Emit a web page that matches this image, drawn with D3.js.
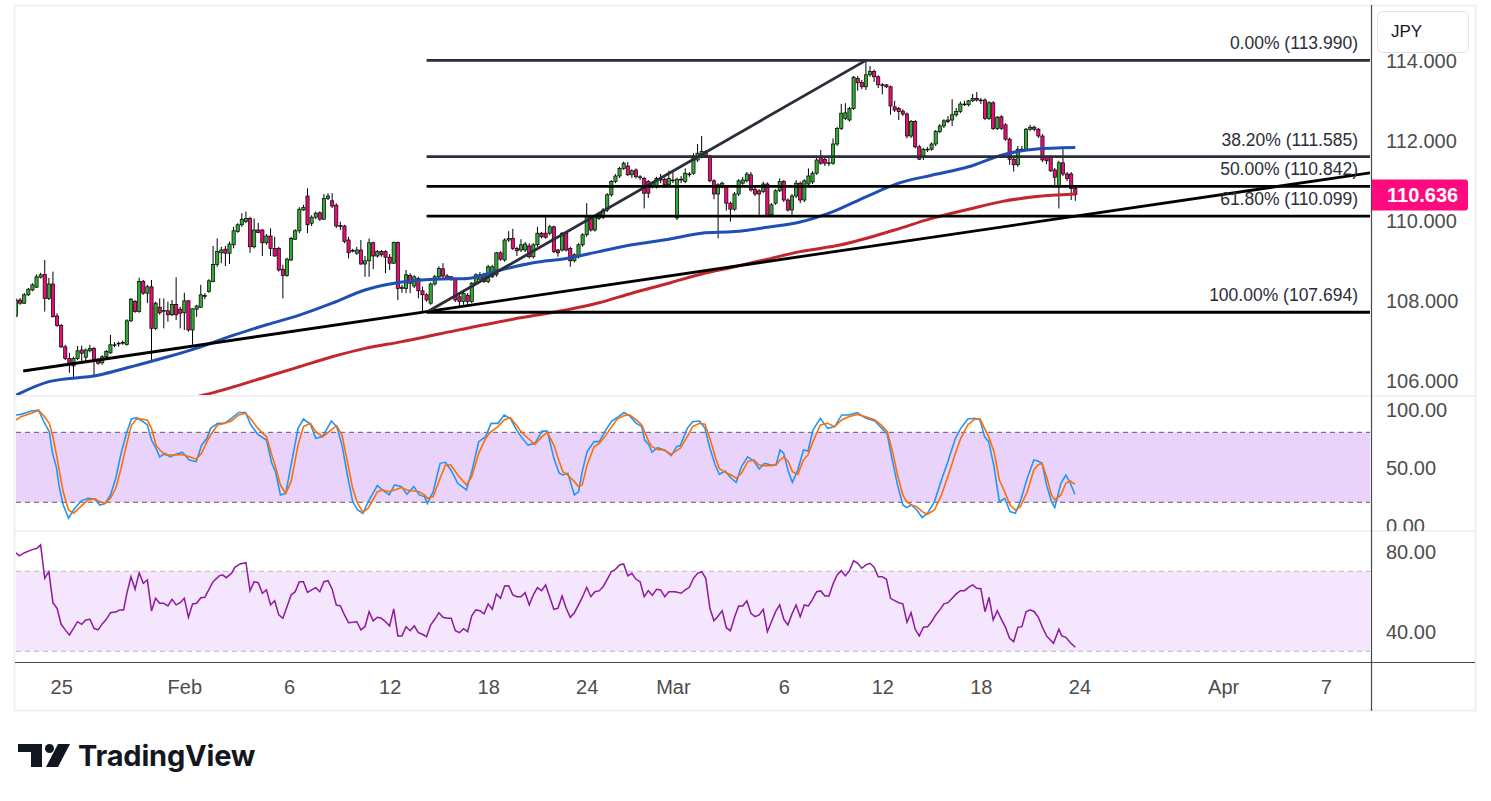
<!DOCTYPE html>
<html><head><meta charset="utf-8">
<script src="https://cdn.jsdelivr.net/npm/d3@7"></script>
<style>body{margin:0;background:#fff;overflow:hidden}</style>
</head><body>
<svg id="c" width="1491" height="801"></svg>
<script>
// ---------------- DATA ----------------
const dateLabels = ["25","Feb","6","12","18","24","Mar","6","12","18","24","Apr","7"];
const dateIdx    = [11,41,66.5,91,115,139,160,187,211,235,259,294,319];

const open = [
107.60,108.00,107.92,108.13,108.25,108.32,108.57,108.64,108.04,108.40,
107.60,107.36,106.83,106.54,106.35,106.54,106.75,106.57,106.73,106.79,
106.50,106.43,106.58,106.68,106.87,106.90,106.92,106.89,107.48,107.96,
107.71,108.46,108.17,108.33,107.29,107.82,107.72,107.73,107.63,107.89,
107.77,107.68,107.98,107.25,107.77,107.82,108.10,108.21,108.46,108.89,
109.18,109.27,109.17,109.38,109.71,109.88,109.96,110.04,109.33,109.75,
109.75,109.43,109.60,109.29,109.29,108.77,108.61,109.00,109.52,109.73,
110.25,110.60,109.92,110.07,110.18,110.02,110.54,110.48,110.37,109.85,
109.85,109.50,109.23,109.17,109.25,108.90,108.98,109.43,109.10,109.21,
109.21,109.07,108.92,109.44,108.29,108.29,108.61,108.35,108.54,108.23,
108.13,107.92,108.40,108.58,108.78,108.60,108.58,108.52,108.08,107.96,
108.12,107.96,108.42,108.52,108.65,108.46,108.58,108.63,109.18,109.00,
109.50,109.54,109.29,109.25,109.25,109.35,109.08,109.38,109.67,109.67,
109.67,109.83,109.25,109.25,109.67,109.29,108.98,109.08,109.38,109.63,
110.08,109.75,110.04,110.07,110.25,110.63,110.96,111.10,111.29,111.35,
111.13,111.25,111.08,111.04,110.96,110.83,110.83,111.02,111.02,110.88,
111.00,110.05,111.00,110.96,111.15,111.17,111.50,111.58,111.71,111.60,
110.98,110.65,110.83,110.85,110.42,110.27,110.65,110.92,110.98,111.13,
110.77,110.73,110.71,110.90,110.13,110.42,110.73,110.96,110.50,110.25,
110.60,110.92,110.50,110.90,110.95,111.17,111.57,111.52,111.42,111.42,
111.90,112.29,112.54,112.50,112.79,113.54,113.44,113.33,113.63,113.71,
113.58,113.38,113.38,113.33,112.83,112.79,112.72,112.65,112.10,112.46,
111.83,111.57,111.77,111.77,111.90,112.21,112.35,112.50,112.50,112.63,
112.71,112.90,112.88,112.98,113.04,113.00,113.00,112.54,112.93,112.29,
112.58,112.38,112.02,111.52,111.38,111.77,111.77,112.27,112.32,112.27,
112.10,111.57,111.57,111.25,110.83,111.43,111.15,111.15,110.79];
const high = [
108.04,108.05,108.18,108.30,108.42,108.64,108.68,109.00,108.55,108.71,
107.67,107.40,106.88,106.68,106.58,106.85,106.86,106.79,106.88,106.83,
106.54,106.62,106.75,107.13,106.95,106.96,106.99,107.52,108.05,108.00,
108.56,108.50,108.38,108.50,107.96,108.04,108.04,107.96,108.00,108.57,
107.83,108.18,108.00,107.79,107.88,108.38,108.17,108.52,109.35,109.54,
109.33,109.35,109.46,109.83,109.92,110.17,110.21,110.08,110.04,109.93,
109.77,109.65,109.79,109.58,109.33,108.88,109.06,109.58,109.77,110.32,
110.38,110.79,110.12,110.21,110.22,110.65,110.67,110.67,110.42,109.96,
109.88,109.58,109.28,109.33,109.50,109.10,109.54,109.46,109.25,109.25,
109.25,109.15,109.46,109.46,108.38,108.75,108.67,108.62,108.58,108.33,
108.17,108.44,108.63,108.84,108.92,108.65,108.60,108.55,108.15,108.25,
108.17,108.45,108.67,108.70,108.68,108.88,108.88,109.20,109.22,109.54,
109.72,109.78,109.33,109.52,109.45,109.42,109.42,109.83,109.70,110.08,
109.88,109.86,109.28,109.70,109.70,109.33,109.17,109.42,109.67,110.42,
110.12,110.12,110.20,110.30,110.67,111.00,111.15,111.33,111.46,111.45,
111.27,111.29,111.12,111.08,111.00,110.97,111.08,111.15,111.06,111.23,
111.25,111.06,111.10,111.29,111.20,111.67,111.90,112.10,111.75,111.63,
111.02,110.92,110.96,110.88,110.46,110.70,111.02,111.08,111.20,111.20,
110.85,110.77,110.96,110.94,110.42,110.77,111.04,111.00,110.54,110.65,
111.00,110.96,111.02,111.29,111.22,111.55,111.75,111.60,111.55,112.04,
112.33,112.90,112.92,112.83,113.60,113.60,113.50,113.99,113.85,113.76,
113.62,113.42,113.40,113.36,112.98,112.83,112.77,112.69,112.50,112.50,
111.88,111.80,111.82,111.94,112.25,112.40,112.52,112.60,113.02,112.80,
112.96,112.98,113.00,113.15,113.20,113.05,113.04,112.97,112.97,112.60,
112.62,112.42,112.06,111.56,111.85,111.85,112.30,112.38,112.36,112.30,
112.15,111.62,111.62,111.30,111.48,111.77,111.20,111.20,110.83];
const low = [
107.57,107.88,107.90,108.10,108.22,108.30,108.54,107.71,108.00,107.57,
107.33,106.80,106.50,106.18,106.07,106.50,106.46,106.46,106.69,106.08,
106.38,106.38,106.54,106.65,106.82,106.83,106.88,106.86,107.45,107.68,
107.68,108.13,107.92,106.50,107.25,107.63,107.29,107.46,107.60,107.50,
107.29,107.25,107.21,106.88,107.58,107.80,108.02,108.18,108.44,108.83,
108.92,108.85,108.90,109.29,109.68,109.83,109.92,109.18,109.29,109.67,
109.10,109.38,109.10,109.08,108.71,108.04,108.58,108.98,109.50,109.67,
110.23,109.67,109.85,110.02,109.98,110.00,110.50,110.30,109.80,109.75,
109.42,109.04,109.19,109.13,108.88,108.58,108.58,108.77,109.06,109.08,
108.67,108.75,108.90,108.00,108.18,108.17,108.17,108.30,108.04,107.694,
107.96,107.88,108.36,108.55,108.55,108.50,108.48,107.95,107.80,107.88,
107.88,107.92,108.38,108.48,108.42,108.42,108.55,108.58,108.98,108.96,
109.45,109.25,109.10,109.20,109.20,109.04,109.04,109.33,109.54,109.53,
109.62,109.17,109.08,109.21,109.21,108.83,108.94,109.04,109.33,109.58,
109.71,109.71,110.00,110.02,110.20,110.58,110.92,111.05,111.25,111.10,
111.05,111.04,111.00,110.29,110.55,110.79,110.79,110.92,110.83,110.85,
110.92,110.00,110.92,110.92,111.08,111.13,111.45,111.54,111.55,110.94,
110.52,109.54,110.79,110.23,109.96,110.23,110.60,110.88,110.94,110.71,
110.60,110.13,110.67,110.08,110.10,110.38,110.70,110.45,110.21,110.13,
110.55,110.42,110.45,110.85,110.90,111.13,111.38,111.35,111.35,111.38,
111.85,112.25,112.50,112.46,112.75,113.23,113.27,113.25,113.58,113.45,
113.30,113.14,113.30,112.63,112.70,112.50,112.60,112.04,112.05,111.79,
111.50,111.50,111.70,111.73,111.85,112.17,112.30,112.42,112.35,112.58,
112.67,112.85,112.84,112.95,112.96,112.90,112.50,112.50,112.25,112.25,
112.25,111.98,111.38,111.21,111.33,111.70,111.73,112.22,112.22,112.05,
111.45,111.40,111.20,110.85,110.29,111.10,110.97,110.50,110.48];
const close = [
108.00,107.92,108.13,108.27,108.38,108.58,108.63,108.04,108.40,107.58,
107.36,106.83,106.54,106.38,106.54,106.73,106.67,106.75,106.79,106.50,
106.42,106.58,106.71,106.88,106.88,106.92,106.94,107.48,108.02,107.71,
108.46,108.17,108.33,107.29,107.92,107.68,107.74,107.63,107.89,107.63,
107.67,107.98,107.25,107.78,107.85,108.13,108.11,108.48,108.89,109.21,
109.25,109.17,109.40,109.73,109.88,110.02,110.04,109.33,109.75,109.69,
109.43,109.60,109.29,109.10,108.75,108.61,109.02,109.54,109.73,110.27,
110.31,109.88,110.07,110.17,110.02,110.54,110.60,110.35,109.85,109.86,
109.46,109.18,109.24,109.25,108.90,108.98,109.43,109.10,109.21,109.13,
109.07,108.92,109.44,108.29,108.32,108.63,108.42,108.58,108.23,108.13,
108.00,108.40,108.58,108.79,108.60,108.53,108.53,108.00,107.96,108.17,
107.96,108.42,108.63,108.63,108.46,108.83,108.83,109.18,109.02,109.50,
109.54,109.29,109.23,109.38,109.40,109.08,109.38,109.67,109.58,109.57,
109.83,109.21,109.18,109.67,109.25,108.98,109.13,109.38,109.63,110.08,
109.75,110.08,110.15,110.25,110.63,110.96,111.10,111.29,111.42,111.13,
111.23,111.08,111.06,110.67,110.67,110.93,111.04,111.00,110.88,111.04,
111.00,111.02,111.02,111.17,111.14,111.60,111.67,111.71,111.60,110.98,
110.65,110.88,110.92,110.42,110.27,110.65,110.98,111.00,111.15,110.75,
110.65,110.65,110.90,110.10,110.38,110.73,110.96,110.50,110.25,110.60,
110.92,110.50,110.98,111.10,111.17,111.50,111.42,111.42,111.43,111.90,
112.29,112.67,112.68,112.79,113.57,113.43,113.33,113.63,113.71,113.58,
113.38,113.37,113.33,112.85,112.75,112.71,112.65,112.10,112.46,111.83,
111.52,111.77,111.77,111.90,112.21,112.35,112.48,112.46,112.63,112.71,
112.90,112.90,112.98,113.04,113.00,113.00,112.54,112.93,112.29,112.57,
112.29,112.02,111.52,111.38,111.77,111.77,112.27,112.32,112.27,112.10,
111.50,111.48,111.23,111.07,111.43,111.15,111.04,110.79,110.636];

// moving averages (bar index, value)
const maBlueIdx = [0,8,20,28,37,45,53,61,69,77,85,94,102,110,118,126,134,142,150,159,167,175,183,191,199,207,215,223,232,240,248,258];
const maBlue    = [105.62,105.96,106.12,106.33,106.58,106.83,107.12,107.38,107.62,107.92,108.25,108.45,108.52,108.54,108.75,108.93,109.04,109.21,109.38,109.52,109.67,109.71,109.82,109.95,110.21,110.58,110.92,111.12,111.33,111.62,111.77,111.81];
const maRedIdx  = [44,46,53,61,69,77,85,94,103,121,134,142,150,159,167,175,183,191,201,214,223,232,240,248,258];
const maRed     = [105.58,105.63,105.83,106.08,106.33,106.58,106.79,106.96,107.15,107.52,107.75,107.93,108.17,108.42,108.65,108.83,109.02,109.21,109.38,109.75,110.04,110.27,110.46,110.58,110.65];

// stochastic (bar index, %K, %D)
const stIdx = [0,1.2,3.8,5.5,6.8,8.1,8.9,9.8,10.6,11.5,12.8,14,15.8,17.5,19.2,20.4,21.7,23,24.3,25.6,26.9,28.1,29.4,30.7,32,33,34.1,35,36.3,37.5,38.8,40.5,42.2,43.9,45.2,46.5,47.4,49.1,50.8,52.5,54.2,55.9,57.2,58.9,61,62.3,63.2,64.4,65.7,67,68.7,70,71.7,73,74.7,76.8,78.1,79.4,80.7,82,83.2,84.5,85.8,88,89.2,90.9,92.2,93.9,95.2,96.9,98.2,99.5,100.2,101.6,103.3,104.6,105.9,107.6,109.7,111,112.7,114.4,115.7,117.4,118.9,120.4,121.7,123,124.7,126.4,128.1,129.4,131,132.3,133.2,134.4,136,137,137.9,139.1,140.8,142.1,143.4,145.1,146.4,148.1,149.4,151.1,152.4,153.1,154.1,154.9,156.2,157.9,159.6,160.9,161.8,163.5,164.8,166.5,167.8,169,170.3,171.3,172.7,174.2,175.4,176.7,178.2,179.7,181,182.3,184,185.1,186.1,187,188.1,189.1,190.4,191.8,192.9,194.1,195.9,197.7,199.4,201.1,202.8,204.9,207,209.2,210.9,212.2,213.5,214.7,216,216.9,218.1,219.4,220.7,222,223.7,225.4,227.1,228.8,230.1,231.8,233.5,234.8,235.9,236.9,238.2,239.5,240.8,242.1,243.4,244.6,246.3,247.9,248.9,249.9,251,252.2,253,254.5,255.7,256.8,257.9];
const stK = [94.9,95.4,98.3,99,89,80.5,62,50.6,32,17.7,6.3,13.4,21,23.4,22.9,17.7,19,26,40.6,62,79,91.4,92.6,89.7,86.3,73.4,66.3,59,62,59,61,62.9,56.3,54.9,69,74.9,83.4,87.7,87.7,92,97,97,86.3,78.3,73.4,53.4,46.3,26.3,27.7,52,83.4,91.4,86.9,74.9,76.3,89.7,84.9,69,43.4,20.6,13.4,10.6,20.6,34.3,30.6,26.3,34.9,33.4,26.9,33.4,26.3,24.9,19,29,53.4,54.3,47.7,36.3,30.6,46.3,72,76.3,87.7,87.7,94.9,92,83.4,76.3,69,70.6,81,81,57.7,44.9,43.4,44.9,26.3,29,46.3,63.4,72,72,80.6,89.7,92.6,97,94.3,87.7,84.9,73.4,69.7,62.9,66.9,64.9,60,67.7,68.6,83.4,89,89.7,83.4,66.3,52,44,46.9,40.6,37.1,50.6,59,55.4,48.6,53.4,52,52,64.9,62,46.3,37.1,47.7,64.9,64,82,92,83.4,84.9,94.9,94.9,97,92,89.7,83.4,78.3,54.9,34.9,17.7,15.4,17.7,13.4,6.9,10.6,20.6,39.1,56.3,74.9,83.4,91.4,92,90.6,76.3,72,50.6,20.6,23.4,12,10.6,20.6,40.6,56.3,55.4,53.4,34.9,20.6,15.4,36.3,43.4,36.3,26.9];
const stD = [90.6,93.4,96.3,98.9,94,87.7,77.7,62,46,29,13.4,10.6,16.3,22,22.9,20.6,19.1,23.4,32,49,69,86,91.4,91.4,90.3,83.4,69,65,60.6,60.6,60.6,61,59,57,62,72,77.7,86.3,87.7,89.7,94.9,96.3,91.4,83.4,76.3,60.6,50.6,34.9,27.7,37.7,69,84.9,87.7,80.6,76.3,82,85.7,77.7,54.9,32,19,11.4,14.9,29,30.6,29,30.6,32.6,30.6,29.7,29,26.3,23.4,24.9,40.6,52,52,43.4,34.9,42,62,74.9,80.6,84.9,90.6,92.6,86.9,80.6,74.9,69.7,76.3,80,69,54.9,46.3,43.4,37.7,33.4,34.9,52,67.7,70.6,76.3,84.9,91.4,94.3,94.9,90.6,86.3,80.6,72,67.7,65.4,64.9,61,64.3,66.3,76.3,84.9,87.7,86.9,74.9,59,49,45.7,43.4,40.6,44.9,54.9,56.3,52,51.4,51.4,52,56.3,59,54.9,46.3,44,56.3,60.6,72,86.3,87.7,84.9,90.6,93.4,95.4,93.4,90.6,85.7,80.6,63.4,43.4,26.3,20.6,17.7,16.3,12,9.7,13.4,26.3,43.4,62,74.9,86.3,91.4,91.4,83.4,76.3,63.4,39.1,29,17.7,13.4,16.3,29,47.7,52,53.4,42,26.3,22,26.3,36.3,38.3,35.4];

// RSI (bar index, value)
const rsiIdx = [0,0.8,2.1,3.8,5.1,6,7,8,9,10,11,12,13,14,15,16,17,18,19,20,21,22,23,24.5,25.2,26.2,27,28,29,30,31,32,33,34,35,36,37,38,39,40,41,42,43,44,45,46,47,48,49.5,50.3,51.2,52.5,53.3,54.6,56,57,58,59,60,61,62,63,64,65,66,67,68,69,70,71,72,73,74,75,76,77,78,79,80,81,82,83,84,85,86,87,88,89,90,91,92,93,94,95,96,97,98,99,100,101,102,103,104,105,106,107,108,109,110,111,112,113,114,115,116,117,118,119,120,121,122,123,124,125,126,127,128,129,131,132,133,134,135,136,137,138,139,140,141,142,143,144,145,146,147,148,149,150,151,152,153,154,155,156,157,158,159,160.5,162,163,164,165,166,167,168,169,170,171,172,173,174,175,176,177,178,179,180,181,182,183,184,185,186,187,188,189,190,191,192,193,194,195,196,197,198,199,200,201,202,203,204,205,206,207,208,209,210,211,212,213,214,215,216,217,218,219,220,221,222,223,224,225,226,227,228,229,230,231,232,233,234,235,236,237,238,239,240,241,242,243,244,245,246,247,248,249,250,251,252.7,254,254.7,255.7,256.8,258];
const rsi    = [79.3,77.7,79.3,80.7,81.5,83.2,66.5,69.8,54.3,51.5,43.5,40.7,38.2,41.5,44.8,43.5,45.7,46,41.5,40.7,43.7,46,49.3,49.8,50.7,50.7,59,67.3,61,69.3,64,65.7,50.2,56.5,54,54,52.7,56,53.2,54.3,56.5,47,53.7,54,56.8,57,61,64.8,67.7,68.2,66.8,69,72,73.7,74.3,60.2,64.8,64.3,59,60.7,53.2,55.3,48.2,46.5,52.3,58.2,59.8,64.8,64.8,59.5,60.7,61.8,59.8,64.8,65.3,61,53.2,52.7,48.2,44.3,44.5,44.8,40.7,42.3,49.8,45.2,47,46.5,44.8,42.7,51.2,37.7,37.7,42.3,40.3,42.7,39.3,38.5,37.3,43.2,46,49.3,47,46.5,46.5,40.3,39.3,41.3,39.8,47.7,50.7,50.3,48.7,53.7,51,58.7,56.5,62.7,62.8,58.2,57.3,57.3,59.3,53.2,58.2,61.8,60.3,63.2,51,51.5,57.7,51.5,47,49.3,53.2,57.3,62,57.3,59.8,60.2,62.3,66,69.8,71,73.2,73.7,67.7,69,66,64.8,57.3,60.3,58,61,60.7,57.3,59.8,59.8,59,60.7,62,66.5,69,69.8,66.5,51.5,45.3,47.7,50.3,41.8,40.3,47,52.7,52.7,55.3,49,47.3,48.2,51,39.8,44.8,49.8,53.2,46,43.2,48.7,53.2,47.3,53.2,52.7,56,59.8,60.2,57.7,57.7,63.7,68.2,70.3,67.7,70.3,75.3,74,71.5,73.2,74,72,67.3,67.3,66,56.5,55.3,54.3,53.7,44.5,49.3,41,37.7,42,42.3,44.8,48.2,50.7,53.7,54.3,56.5,58.7,60.3,60.3,62,63.2,61.5,61.3,49.8,57,45.7,50.3,46,42,36.5,34.8,42,42.3,49.8,50.7,49.8,47,42,37.7,34,41,37.7,37,34.3,32];

// Drawings: fib retracement + trend lines
const fibStartIdx = 100, fibTopIdx = 207;
const fibLevels = [0, 0.382, 0.5, 0.618, 1];
const fibPrices = [113.990, 111.585, 110.842, 110.099, 107.694];
const trendIdx = [1.75, 99];
const trendPrice = [106.225, 107.694];

const priceTicks = [106, 108, 110, 112, 114];
const stochTicks = [0, 50, 100];
const rsiTicks = [40, 80];
const lastPrice = 110.636;
const symbol = "JPY";

// ---------------- DRAW ----------------
const svg = d3.select("#c");
const FONT = "'Liberation Sans', Arial, sans-serif";
const PL = 16, PR = 1370;
const UP = "#34a835", DOWN = "#ec0c78";

const x  = d3.scaleLinear().domain([0, close.length - 1]).range([16, 1075.3]);
const yP = d3.scaleLinear().domain([106, 114]).range([380, 60]);
const yS = d3.scaleLinear().domain([0, 100]).range([525.6, 409]);
const yR = d3.scaleLinear().domain([30, 70]).range([651.3, 571.3]);

const defs = svg.append("defs");
function clip(id, x0, y0, w, h) {
  defs.append("clipPath").attr("id", id).append("rect").attr("x", x0).attr("y", y0).attr("width", w).attr("height", h);
}
clip("cp", PL, 6, PR - PL, 389);
clip("cs", PL, 397, PR - PL, 133);
clip("cr", PL, 532, PR - PL, 130);
clip("ap", 1372, 6, 103, 389);
clip("as", 1372, 397, 103, 134);
clip("ar", 1372, 532, 103, 130);

// frame
svg.append("rect").attr("x", 14.5).attr("y", 5.5).attr("width", 1461).attr("height", 705)
  .attr("fill", "#fff").attr("stroke", "#efefef").attr("stroke-width", 2);

// ---- stochastic pane ----
const gs = svg.append("g").attr("clip-path", "url(#cs)");
gs.append("rect").attr("x", PL).attr("width", PR - PL).attr("y", yS(80)).attr("height", yS(20) - yS(80)).attr("fill", "#ead3fb");
[80, 20].forEach(v => gs.append("line").attr("x1", PL).attr("x2", PR).attr("y1", yS(v)).attr("y2", yS(v))
  .attr("stroke", "#5d5d66").attr("stroke-dasharray", "5,4").attr("stroke-width", 1));
const stPts = (arr) => stIdx.map((d, i) => [d, arr[i]]);
const lineS = d3.line().x(d => x(d[0])).y(d => yS(d[1]));
gs.append("path").attr("d", lineS(stPts(stK))).attr("fill", "none").attr("stroke", "#2196f3").attr("stroke-width", 1.6);
gs.append("path").attr("d", lineS(stPts(stD))).attr("fill", "none").attr("stroke", "#ff6d00").attr("stroke-width", 1.6);

// ---- RSI pane ----
const gr = svg.append("g").attr("clip-path", "url(#cr)");
gr.append("rect").attr("x", PL).attr("width", PR - PL).attr("y", yR(70)).attr("height", yR(30) - yR(70)).attr("fill", "#f4e6fd");
[70, 30].forEach(v => gr.append("line").attr("x1", PL).attr("x2", PR).attr("y1", yR(v)).attr("y2", yR(v))
  .attr("stroke", "#b9b6c0").attr("stroke-dasharray", "5,4").attr("stroke-width", 1));
const lineR = d3.line().x(d => x(d[0])).y(d => yR(d[1]));
gr.append("path").attr("d", lineR(rsiIdx.map((d, i) => [d, rsi[i]]))).attr("fill", "none")
  .attr("stroke", "#8e1a9c").attr("stroke-width", 1.5);

// ---- price pane ----
const gp = svg.append("g").attr("clip-path", "url(#cp)");
const bars = close.map((c, i) => ({ i, o: open[i], h: Math.max(high[i], open[i], c), l: Math.min(low[i], open[i], c), c }));
gp.append("g").selectAll("line").data(bars).join("line")
  .attr("x1", d => x(d.i)).attr("x2", d => x(d.i))
  .attr("y1", d => yP(d.h)).attr("y2", d => yP(d.l))
  .attr("stroke", "#000").attr("stroke-width", 1);
gp.append("g").selectAll("rect").data(bars).join("rect")
  .attr("x", d => x(d.i) - 1.6).attr("width", 3.2)
  .attr("y", d => yP(Math.max(d.o, d.c)))
  .attr("height", d => Math.max(0.8, Math.abs(yP(d.o) - yP(d.c))))
  .attr("fill", d => d.c >= d.o ? UP : DOWN)
  .attr("stroke", "#000").attr("stroke-width", 0.7);

const lineP = d3.line().x(d => x(d[0])).y(d => yP(d[1])).curve(d3.curveMonotoneX);
gp.append("path").attr("d", lineP(maRedIdx.map((d, i) => [d, maRed[i]]))).attr("fill", "none")
  .attr("stroke", "#c3262b").attr("stroke-width", 3);
gp.append("path").attr("d", lineP(maBlueIdx.map((d, i) => [d, maBlue[i]]))).attr("fill", "none")
  .attr("stroke", "#1f4fb5").attr("stroke-width", 3);

// long trend line (ray to right edge)
const slope = (trendPrice[1] - trendPrice[0]) / (trendIdx[1] - trendIdx[0]);
const endIdx = x.invert(PR);
gp.append("line").attr("x1", x(trendIdx[0])).attr("y1", yP(trendPrice[0]))
  .attr("x2", x(endIdx)).attr("y2", yP(trendPrice[0] + slope * (endIdx - trendIdx[0])))
  .attr("stroke", "#000").attr("stroke-width", 2.8);

// fib trend line
gp.append("line").attr("x1", x(fibStartIdx)).attr("y1", yP(fibPrices[4]))
  .attr("x2", x(fibTopIdx)).attr("y2", yP(fibPrices[0]))
  .attr("stroke", "#2a2e39").attr("stroke-width", 2.8);

// fib levels
const fibColors = ["#2a2e39", "#2a2e39", "#000", "#000", "#000"];
fibPrices.forEach((p, k) => {
  gp.append("line").attr("x1", x(fibStartIdx)).attr("x2", PR).attr("y1", yP(p)).attr("y2", yP(p))
    .attr("stroke", fibColors[k]).attr("stroke-width", 2.8);
  gp.append("text").attr("x", 1358).attr("y", yP(p) - 11).attr("text-anchor", "end")
    .attr("font-family", FONT).attr("font-size", 17.5).attr("fill", "#2a2e39")
    .text(`${(fibLevels[k] * 100).toFixed(2)}% (${p.toFixed(3)})`);
});

// ---- separators ----
[396, 531].forEach(yy => svg.append("line").attr("x1", 15).attr("x2", 1475).attr("y1", yy).attr("y2", yy)
  .attr("stroke", "#e0e3eb").attr("stroke-width", 1.2));
svg.append("line").attr("x1", 15).attr("x2", 1475).attr("y1", 662.5).attr("y2", 662.5).attr("stroke", "#4a4a4a").attr("stroke-width", 1.2);
svg.append("line").attr("x1", 1371.5).attr("x2", 1371.5).attr("y1", 5).attr("y2", 711).attr("stroke", "#4a4a4a").attr("stroke-width", 1.2);

// ---- right axes ----
function rightAxisAbs(scale, ticks, fmt, clipId) {
  const outer = svg.append("g").attr("clip-path", `url(#${clipId})`);
  const g = outer.append("g").attr("transform", "translate(1372,0)")
    .call(d3.axisRight(scale).tickValues(ticks).tickFormat(fmt).tickSize(0).tickPadding(14));
  g.select(".domain").remove();
  g.selectAll("text").attr("font-family", FONT).attr("font-size", 20).attr("fill", "#4d4d4d").attr("dy", "0.36em");
}
rightAxisAbs(yP, priceTicks, d3.format(".3f"), "ap");
rightAxisAbs(yS, stochTicks, d3.format(".2f"), "as");
rightAxisAbs(yR, rsiTicks, d3.format(".2f"), "ar");

// JPY box
svg.append("rect").attr("x", 1377.5).attr("y", 11.5).attr("width", 91).attr("height", 41).attr("rx", 5)
  .attr("fill", "#fff").attr("stroke", "#e0e3eb");
svg.append("text").attr("x", 1391).attr("y", 37).attr("font-family", FONT).attr("font-size", 17)
  .attr("fill", "#131722").text(symbol);

// last price label
const lpY = yP(lastPrice);
svg.append("path")
  .attr("d", `M1372,${lpY - 15} H1465 a3,3 0 0 1 3,3 V${lpY + 13} a3,3 0 0 1 -3,3 H1372 Z`)
  .attr("fill", "#ff0a7f");
svg.append("text").attr("x", 1387).attr("y", lpY).attr("dy", "0.36em").attr("font-family", FONT)
  .attr("font-size", 20).attr("font-weight", "bold").attr("fill", "#fff").text(lastPrice.toFixed(3));

// ---- bottom time axis ----
const gx = svg.append("g").attr("transform", "translate(0,664)")
  .call(d3.axisBottom(x).tickValues(dateIdx).tickFormat((d, i) => dateLabels[i]).tickSize(0).tickPadding(16));
gx.select(".domain").remove();
gx.selectAll("text").attr("font-family", FONT).attr("font-size", 20).attr("fill", "#4d4d4d");

// ---- TradingView logo ----
const lg = svg.append("g").attr("fill", "#131722");
lg.append("path").attr("d", "M18,744 H42 V767 H31 V752 H18 Z");
lg.append("circle").attr("cx", 49.5).attr("cy", 748.5).attr("r", 4.5);
lg.append("path").attr("d", "M58,744 H70 L58,767 H46 Z");
lg.append("text").attr("x", 78).attr("y", 766).attr("font-family", "Inter, 'Noto Sans', sans-serif")
  .attr("font-size", 29).attr("font-weight", 700).attr("letter-spacing", -0.2).text("TradingView");
</script>
</body></html>
